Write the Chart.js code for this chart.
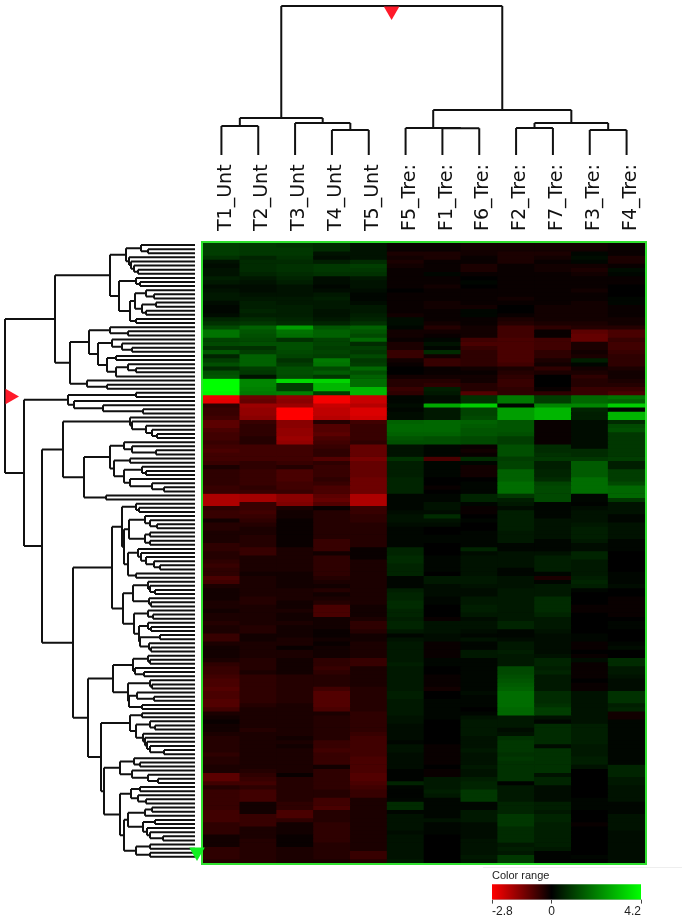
<!DOCTYPE html>
<html>
<head>
<meta charset="utf-8">
<title>Heat map</title>
<script src="https://cdn.jsdelivr.net/npm/chart.js@4"></script>
<style>
  html, body { margin: 0; padding: 0; background: #fff; }
  #page { position: relative; width: 682px; height: 920px; overflow: hidden; }
  canvas { position: absolute; filter: blur(0.4px); }
  #rule { position: absolute; left: 483px; top: 867px; width: 199px; height: 1px; background: #eee; }
</style>
</head>
<body>
<div id="page">
  <canvas id="heatChart" width="460" height="715" style="left:195px;top:155px"></canvas>
  <canvas id="topTree" width="442" height="155" style="left:203px;top:0"></canvas>
  <canvas id="leftTree" width="210" height="680" style="left:0;top:200px"></canvas>
  <div id="rule"></div>
  <canvas id="colorBar" width="212" height="52" style="left:470px;top:868px"></canvas>
</div>
<script>
// DATA
const columnLabels = ['T1_Unt','T2_Unt','T3_Unt','T4_Unt','T5_Unt','F5_Tre:','F1_Tre:','F6_Tre:','F2_Tre:','F7_Tre:','F3_Tre:','F4_Tre:'];
const colorMin = -2.8;
const colorMax = 4.2;
const colorTicks = [-2.8, 0, 4.2];

// one row per gene, columns in the order of columnLabels
const cellValues = [
[1.0,.9,.8,.7,.3,-.1,-.1,-.2,-.2,-.2,-.2,-.1],
[1.0,.9,.9,.7,.3,-.1,-.1,-.2,-.2,-.2,-.2,-.1],
[1.0,.9,.9,.3,.3,-.3,-.3,-.2,-.3,-.3,.1,-.1],
[.8,.6,.8,.2,.3,-.2,-.3,-.1,-.3,-.2,.2,-.3],
[.3,.7,.7,.5,.7,-.3,-.1,-.1,-.3,-.1,.1,-.3],
[.2,.7,.8,.9,1.0,-.2,-.1,-.3,-.1,-.2,-.2,-.1],
[.3,.7,.8,.9,.9,-.1,-.1,-.3,-.1,-.2,-.3,.2],
[.3,.6,.7,.8,.8,-.1,.1,-.1,-.1,-.1,-.2,.1],
[.5,.4,.6,.2,.4,-.1,-.1,0,-.1,-.1,-.1,-.1],
[.4,.3,.5,.2,.3,-.1,-.1,.1,-.1,-.1,-.1,-.1],
[.2,.2,.3,.1,.3,-.1,-.2,0,-.1,-.1,-.1,0],
[.3,.2,.3,.2,.2,0,-.1,-.1,-.1,-.1,-.2,0],
[.4,.3,.3,.4,.1,-.1,-.1,-.1,-.1,-.1,-.1,0],
[.4,.4,.4,.5,.1,-.1,-.1,-.1,-.2,-.1,-.1,.1],
[.2,.5,.4,.4,.2,-.1,-.2,-.1,-.1,-.1,-.2,.1],
[.1,.5,.5,.4,.4,-.1,-.2,-.2,0,-.2,-.2,-.1],
[.1,.6,.5,.3,.4,-.1,-.1,.1,0,-.2,-.2,-.1],
[.2,.5,.5,.3,.5,-.2,-.1,.1,-.1,-.2,-.2,-.1],
[.6,.7,.6,.4,.6,.2,-.1,-.1,-.3,-.2,-.2,-.2],
[.8,.9,.7,.6,.8,.2,-.2,-.1,-.4,-.3,-.3,-.2],
[1.2,1.6,2.6,1.4,1.6,.1,-.4,-.2,-.7,-.5,-.4,-.4],
[1.9,1.4,1.9,1.6,1.4,-.2,-.2,-.2,-.7,-.1,-1.0,-.8],
[1.9,1.3,1.8,1.6,1.2,-.2,-.1,-.2,-.7,-.1,-1.1,-.8],
[1.1,1.2,.8,1.1,1.7,-.1,.1,-.7,-.8,-.7,-1.1,-.6],
[1.2,1.3,1.3,1.1,.7,-.3,.3,-.8,-.8,-.7,-.3,-.7],
[.8,.8,1.3,1.0,1.0,-.3,.1,-.6,-.8,-.7,-.3,-.7],
[1.4,1.0,1.2,1.1,.9,-.6,.7,-.5,-.8,-.5,-.2,-.6],
[.6,1.6,1.1,1.0,1.2,-.6,-.2,-.5,-.8,-.5,-.3,-.5],
[1.0,1.6,.8,2.0,.9,-.2,-.6,-.5,-.8,-.3,.5,-.5],
[1.3,1.6,1.0,1.9,1.0,-.1,-.6,-.5,-.7,-.2,.1,-.5],
[.7,1.0,1.3,1.2,1.7,0,-.1,-.2,-.3,-.5,-.2,-.3],
[1.3,.9,1.3,1.5,1.3,0,-.1,-.1,-.4,-.3,-.3,-.2],
[1.4,.3,1.2,.9,1.6,-.2,-.2,-.2,-.5,0,-.5,-.2],
[4.2,2.2,3.6,3.5,1.8,-.4,-.4,-.2,-.6,0,-.4,-.3],
[4.2,2.2,1.0,3.0,1.8,-.4,-.5,-.4,-.6,0,-.4,-.4],
[4.2,2.1,1.0,3.0,3.0,-.6,.5,-.4,-.5,-.1,-.6,-.6],
[4.1,2.0,2.1,1.0,3.0,-.5,.4,-.9,-.5,-.5,-.6,-.8],
[-2.6,-1.2,-1.6,-2.7,-2.2,.1,.2,.8,2.0,1.0,1.7,1.9],
[-2.5,-1.1,-1.5,-2.7,-2.2,.1,.2,.8,2.0,1.0,1.7,1.6],
[-.5,-1.7,-1.7,-2.2,-2.0,.2,2.8,3.4,.1,2.2,2.2,3.4],
[-.6,-1.6,-2.8,-2.1,-2.4,.1,.4,1.1,2.6,3.0,.6,.1],
[-.6,-1.6,-2.8,-2.1,-2.4,.2,.4,1.1,2.6,3.0,.5,3.0],
[-.7,-1.5,-2.8,-2.0,-2.3,.2,.4,1.2,2.6,3.0,.5,3.0],
[-1.0,-.6,-1.5,-.4,-.7,1.6,1.7,1.6,1.4,-.1,.2,.7],
[-1.0,-.5,-1.5,-.9,-.6,1.7,1.7,1.5,1.4,-.1,.2,1.2],
[-.8,-.5,-1.6,-.9,-.6,1.7,1.7,1.4,1.4,-.1,.2,1.3],
[-.7,-.5,-1.6,-1.0,-.6,1.6,1.6,1.4,1.3,-.1,.2,.9],
[-.7,-.4,-1.7,-.8,-.6,1.4,1.3,1.2,1.0,-.1,.2,.9],
[-.6,-.4,-1.6,-.7,-.5,1.3,1.3,1.2,1.0,-.1,.2,.9],
[-.7,-.7,-.7,-.6,-1.1,.3,.1,-.1,1.3,.7,.2,.9],
[-.8,-.7,-.7,-.5,-1.1,.3,.1,-.2,1.3,.7,.7,.9],
[-.7,-.7,-.7,-.5,-1.1,.3,.1,-.1,1.3,.8,.7,.9],
[-.7,-.7,-.7,-.9,-1.3,.8,-.8,.7,1.0,.9,.9,1.0],
[-.6,-.5,-.6,-.5,-1.1,.5,.1,.1,1.1,.5,1.5,.5],
[-.3,-.5,-.4,-.6,-1.1,.5,.1,-.2,1.1,.5,1.5,.5],
[-.5,-.6,-.8,-.6,-1.1,.5,.1,-.2,1.6,.6,1.5,1.0],
[-.5,-.6,-.8,-.6,-1.1,.5,.1,-.2,1.6,.6,1.5,1.0],
[-.5,-.6,-.8,-.5,-1.2,.6,0,0,1.6,.7,1.8,1.0],
[-.5,-.6,-.7,-.6,-1.2,.6,0,.1,1.8,1.1,1.8,1.2],
[-.6,-.5,-.7,-.8,-1.2,.6,-.1,.1,1.8,1.2,1.8,1.7],
[-.6,-.6,-.6,-.8,-1.2,.6,0,.1,1.8,1.2,1.8,1.7],
[-1.9,-1.8,-1.5,-1.0,-1.9,.1,.1,.6,.9,1.2,.1,1.7],
[-1.9,-1.8,-1.5,-1.1,-1.9,.1,.1,.6,.5,1.2,.1,.9],
[-1.9,-.6,-1.4,-.9,-1.9,.1,.3,.1,.4,.1,.05,.3],
[-.5,-.6,-.3,-.1,-.6,.1,.3,-.1,.2,.1,.2,.3],
[-.6,-.7,-.2,-.4,-.6,.2,.2,-.1,.5,.1,.3,.3],
[-.6,-.6,-.2,-.4,-.5,.3,.7,0,.5,.1,.3,.1],
[-.2,-.5,-.1,-.4,-.5,.3,.3,.1,.5,.3,.3,.1],
[-.4,-.4,-.1,-.4,-.4,.2,.2,0,.5,.3,.4,.3],
[-.4,-.3,-.1,-.4,-.4,.1,0,0,.5,.3,.5,.3],
[-.3,-.3,-.1,-.4,-.4,.1,0,.1,.4,.3,.5,.3],
[-.3,-.4,-.1,-.4,-.4,.1,.1,.1,.4,.3,.5,.3],
[-.3,-.4,-.1,-.6,-.4,.1,.1,.1,.4,.1,.4,.1],
[-.5,-.4,-.1,-.6,-.4,.1,0,.1,.1,.1,.2,.1],
[-.5,-.6,-.3,-.6,-.1,.6,0,.6,.1,.1,.2,.1],
[-.4,-.6,-.3,-.2,-.1,.6,0,.2,.3,.3,.6,0],
[-.4,-.3,-.3,-.5,-.1,.7,.1,.3,.3,.5,.6,0],
[-.5,-.3,-.3,-.5,-.3,.7,.1,.3,.3,.5,.4,0],
[-.6,-.3,-.3,-.5,-.3,.6,.1,.3,.3,.5,.4,0],
[-.5,-.3,-.3,-.5,-.3,.6,.1,.3,.1,.5,.4,0],
[-.5,-.2,-.2,-.5,-.3,.6,0,.3,.1,.1,.4,.1],
[-.8,-.3,-.2,-.4,-.3,.1,.4,.4,.3,-.3,.5,.1],
[-.7,-.3,-.2,-.3,-.3,.1,.4,.4,.3,.1,.6,.1],
[-.3,-.3,-.2,-.2,-.3,.1,.2,.3,.3,.4,.5,.2],
[-.2,-.3,-.3,-.4,-.3,.5,.2,.2,.4,.4,.1,0],
[-.2,-.3,-.3,-.2,-.3,.6,.2,.2,.4,.4,0,0],
[-.2,-.4,-.3,-.3,-.3,.6,.1,.4,.4,.7,0,-.1],
[-.3,-.4,-.2,-.4,-.3,.7,.1,.4,.4,.7,0,-.1],
[-.3,-.3,-.2,-.8,-.2,.7,0,.5,.4,.7,-.1,-.1],
[-.2,-.3,-.3,-.8,-.2,.6,0,.5,.4,.7,-.1,-.1],
[-.3,-.3,-.2,-.8,-.2,.6,0,.4,.4,.6,0,-.1],
[-.3,-.3,-.2,-.2,-.3,.5,-.1,.2,.4,.4,0,0],
[-.4,-.3,-.3,-.2,-.5,.6,.3,.3,.6,.4,0,.1],
[-.3,-.4,-.2,-.2,-.5,.6,.3,.3,.6,.4,0,.1],
[-.3,-.4,-.2,-.1,-.4,.4,.3,.2,.1,.3,0,0],
[-.6,-.2,-.2,-.1,-.2,.1,.2,.1,.1,.2,.1,0],
[-.6,-.2,-.3,-.2,-.2,.3,.2,.3,.2,.2,.1,0],
[-.3,-.3,-.3,-.1,-.3,.4,-.1,.1,.4,.2,-.1,.1],
[-.2,-.3,-.1,-.2,-.3,.4,-.1,.1,.4,.2,-.1,.2],
[-.2,-.3,-.3,-.2,-.3,.4,-.1,.4,.5,.2,0,0],
[-.2,-.3,-.3,-.2,-.3,.4,-.1,.4,.4,.3,-.1,0],
[-.3,-.4,-.2,-.5,-.6,.4,.1,.1,.4,.6,.2,.7],
[-.5,-.4,-.2,-.5,-.6,.5,.1,.1,.4,.6,-.1,.7],
[-.6,-.4,-.2,-.6,-.3,.4,0,.1,1.2,.5,-.1,.4],
[-.6,-.3,-.2,-.5,-.3,.4,0,.1,1.2,.6,-.1,.4],
[-.7,-.5,-.4,-.4,-.3,.4,-.1,.1,1.3,.4,-.1,.3],
[-.8,-.5,-.4,-.4,-.3,.4,-.1,.1,1.4,.4,0,.2],
[-.8,-.5,-.4,-.4,-.3,.4,-.1,.1,1.5,.4,-.1,.2],
[-.9,-.5,-.4,-.7,-.4,.4,-.2,.1,1.6,.4,-.1,.2],
[-.8,-.5,-.4,-.9,-.4,.5,0,.2,1.8,.7,.3,.8],
[-.8,-.5,-.4,-.9,-.4,.5,0,.1,1.8,.7,.3,.8],
[-.9,-.5,-.4,-.9,-.4,.4,.1,.1,1.8,.7,.3,.8],
[-.9,-.4,-.3,-.9,-.4,.4,.1,.1,1.8,.8,.3,.5],
[-.7,-.3,-.3,-.8,-.4,.4,.1,0,1.7,1.0,.3,.6],
[-.3,-.3,-.3,-.3,-.5,.4,.1,.1,1.7,1.0,.3,-.2],
[-.2,-.3,-.3,-.4,-.5,.3,.1,.3,.4,.3,.3,-.2],
[-.1,-.3,-.3,-.4,-.5,.3,0,.4,.4,.1,.3,.1],
[-.2,-.3,-.3,-.4,-.5,.2,0,.4,.4,.7,.5,.1],
[-.2,-.4,-.3,-.4,-.5,.2,0,.4,.2,.7,.5,.1],
[-.3,-.3,-.3,-.4,-.6,.2,0,.4,.3,.7,.5,.1],
[-.4,-.3,-.2,-.4,-.7,.2,0,.3,.8,.7,.5,.1],
[-.4,-.3,-.3,-.6,-.7,.1,0,.3,.9,.7,.5,.1],
[-.4,-.3,-.2,-.6,-.7,.3,-.1,.3,.9,.2,.4,.1],
[-.4,-.3,-.3,-.7,-.7,.3,-.1,.4,.9,.8,.4,.1],
[-.5,-.3,-.3,-.6,-.7,.2,-.1,.3,.8,.8,.4,.1],
[-.4,-.3,-.3,-.6,-.8,.2,-.1,.3,.9,.8,.5,.1],
[-.4,-.3,-.3,-.6,-.8,.2,-.1,.3,.8,.8,.5,.1],
[-.3,-.3,-.3,-.2,-.8,.2,0,.4,.8,.8,.3,.6],
[-.3,-.4,-.3,-.5,-.8,.05,-.1,.3,.8,.8,0,.6],
[-1.0,-.5,-.1,-.5,-.9,.05,-.1,.3,.8,.3,0,.6],
[-1.0,-.6,-.4,-.5,-.9,.05,.4,.5,.8,.6,0,.4],
[-.7,-.7,-.4,-.5,-.8,.6,.4,.6,.05,.6,0,.4],
[-.4,-.5,-.4,-.5,-.7,.1,.4,.6,.4,.2,0,.3],
[-.6,-.7,-.4,-.4,-.6,.05,.5,.9,.4,.2,0,.3],
[-.6,-.7,-.4,-.4,-.6,.05,.4,.9,.4,.2,0,.3],
[-.6,-.7,-.4,-.7,-.3,.1,.1,.9,.4,.2,.1,.3],
[-.6,-.2,-.5,-.7,-.3,.7,.1,.1,.6,.5,.1,.1],
[-.6,-.2,-.5,-.8,-.3,.7,.1,.1,.6,.5,.1,.1],
[-.7,-.2,-.8,-.4,-.3,.1,.1,.4,.6,.4,0,.1],
[-.7,-.6,-.8,-.4,-.3,.3,.1,.4,.9,.6,0,.3],
[-.7,-.6,-.5,-.4,-.3,.3,.3,.4,.9,.6,0,.3],
[-.5,-.6,-.2,-.5,-.3,.3,.1,.2,.9,.5,-.1,.3],
[-.5,-.3,-.2,-.5,-.3,.3,.1,.2,.7,.5,0,.3],
[-.5,-.3,-.2,-.5,-.3,.2,.1,.2,.7,.5,0,.2],
[-.2,-.3,-.1,-.5,-.3,.3,0,.2,.7,.5,0,.2],
[-.2,-.4,-.1,-.5,-.3,.3,0,.3,.7,.5,0,.2],
[-.2,-.4,-.1,-.4,-.3,.3,0,.3,.4,.5,0,.2],
[-.5,-.4,-.3,-.4,-.3,.3,0,.3,.5,.4,0,.2],
[-.5,-.4,-.3,-.4,-.6,.3,0,.3,.4,.05,0,.2],
[-.5,-.4,-.3,-.4,-.6,.3,0,.4,.9,.05,.1,.2],
[-.4,-.4,-.3,-.3,-.4,.4,0,.3,.9,.05,0,.2]
];

// dendrograms: [distance, child, child], 0 is a leaf
const rowTree = [5,
  [55,
    [110,
      [126, [141,0,[148,0,0]], [129,0,[131,0,[134,0,[138,0,0]]]]],
      [119, [136,0,[140,0,0]],
        [130, [135,[146,0,[154,0,0]],[142,[156,0,0],[146,0,0]]], [136,0,0]]]],
    [70,
      [89,
        [110,0,[128,0,0]],
        [98,
          [112,0,[122,0,[132,0,0]]],
          [107,[116,0,0],[116,[128,0,[136,0,0]],0]]]],
      [87,0,[107,0,0]]]],
  [24,
    [68,[136,0,0],[74,0,[103,0,[143,0,0]]]],
    [42,
      [63,
        [130,0,[132,0,[146,0,[152,0,[157,0,0]]]]],
        [84,
          [110,
            [124,0,[132,0,[156,0,0]]],
            [114,[130,0,0],[124,[142,0,[146,0,0]],[130,0,[152,0,[164,0,0]]]]]],
          [106,0,0]]],
      [73,
        [112,
          [122,
            [136,0,[139,0,0]],
            [124,
              [129,[145,0,[150,0,[157,0,0]]],[145,[150,0,0],[150,0,0]]],
              [128,[138,0,[141,0,[146,0,[154,0,[160,0,0]]]]],[136,0,0]]]],
          [123,
            [133,[148,0,[150,0,[155,0,0]]],[149,0,[151,0,0]]],
            [134,[148,0,[153,0,0]],[139,[148,0,[151,0,0]],[140,[160,0,0],[149,0,[151,0,0]]]]]]],
        [88,
          [113,
            [133,[148,0,[150,0,0]],[135,0,[144,0,0]]],
            [128,[150,0,[152,0,0]],[129,[137,0,[154,0,0]],[142,0,0]]]],
          [101,
            [130,[142,0,0],[136,[150,0,[155,0,0]],[143,0,[145,0,[147,0,[150,0,[164,0,0]]]]]]],
            [104,
              [120,[134,0,[140,0,0]],[124,[132,0,[148,0,[158,0,0]]]]],
              [120,
                [131,[140,0,0],[138,0,[146,0,0]]],
                [124,
                  [128,[145,[152,0,0],0],[143,[155,0,0],[147,0,[150,0,[163,0,0]]]]],
                  [136,[150,0,0],[150,0,0]]]]]]]]]]];
const rowTreeLeafEnd = 195;

const columnTree = [149,
  [37,[29,0,0],[32,0,[25,0,0]]],
  [45,[27,0,[26.7,0,0]],[32,[27,0,0],[25,0,0]]]];
const columnTreeLeafEnd = 0;

const topMarker = [{x: 4.62, y: 144}];
const leftMarker = [{x: 10, y: 36.9}];
const bottomMarker = [{x: 197, y: 147.8}];

/* value -> red/black/green */
function heatColor(v) {
  if (v < 0) return `rgb(${Math.round(Math.min(1, v / colorMin) * 255)},0,0)`;
  return `rgb(0,${Math.round(Math.min(1, v / colorMax) * 255)},0)`;
}

/* turns a nested tree into line points, NaN breaks the line */
function treeLines(tree, leafEnd, flip) {
  const pts = [];
  let next = 0;
  const add = (h1, p1, h2, p2) => {
    pts.push(flip ? {x: p1, y: h1} : {x: h1, y: p1});
    pts.push(flip ? {x: p2, y: h2} : {x: h2, y: p2});
    pts.push({x: NaN, y: NaN});
  };
  const walk = (n) => {
    if (n === 0) return {p: next++, h: leafEnd};
    const h = n[0];
    const kids = n.slice(1).map(walk);
    const first = kids[0].p;
    const last = kids[kids.length - 1].p;
    add(h, first, h, last);
    kids.forEach((k) => add(h, k.p, k.h, k.p));
    return {p: (first + last) / 2, h: h};
  };
  walk(tree);
  return pts;
}

function marker(data, color, radius, rotation) {
  return {
    type: 'scatter', data: data, showLine: false, clip: false,
    pointStyle: 'triangle', pointRadius: radius, pointRotation: rotation,
    backgroundColor: color, borderColor: color, borderWidth: 0
  };
}

const hideAll = { legend: {display: false}, tooltip: {enabled: false}, title: {display: false} };

// heat map, each row is one stacked dataset
const heatPlugin = {
  id: 'heatFrame',
  beforeDatasetsDraw(chart) {
    const a = chart.chartArea;
    chart.ctx.fillStyle = '#000';
    chart.ctx.fillRect(a.left, a.top, a.width, a.height);
  },
  afterDatasetsDraw(chart) {
    const a = chart.chartArea;
    chart.ctx.strokeStyle = '#2fe02f';
    chart.ctx.lineWidth = 2;
    chart.ctx.strokeRect(a.left - 1, a.top - 1, a.width + 2, a.height + 2);
  }
};

new Chart(document.getElementById('heatChart'), {
  type: 'bar',
  data: {
    labels: columnLabels,
    datasets: cellValues.map((row) => ({
      data: row.map(() => 1),
      backgroundColor: row.map(heatColor),
      borderWidth: 0,
      barPercentage: 1,
      categoryPercentage: 1
    }))
  },
  options: {
    responsive: false,
    animation: false,
    layout: {autoPadding: false, padding: {left: 8, right: 10, bottom: 7, top: 0}},
    plugins: hideAll,
    scales: {
      x: {
        stacked: true,
        position: 'top',
        afterFit: (s) => { s.height = 88; s.paddingLeft = 0; s.paddingRight = 0; },
        grid: {display: false},
        border: {display: false},
        ticks: {
          autoSkip: false, minRotation: 90, maxRotation: 90, padding: 4, labelOffset: 27,
          color: '#111', font: {family: 'DejaVu Sans', size: 19}
        }
      },
      y: {stacked: true, display: false, reverse: true, min: 0, max: cellValues.length}
    }
  },
  plugins: [heatPlugin]
});

// column dendrogram
new Chart(document.getElementById('topTree'), {
  type: 'scatter',
  data: {
    datasets: [
      marker(topMarker, '#ff1a2a', 9, 180),
      {
        data: treeLines(columnTree, columnTreeLeafEnd, true),
        showLine: true, spanGaps: false, clip: false, pointRadius: 0,
        borderColor: '#111', borderWidth: 2
      }
    ]
  },
  options: {
    responsive: false,
    animation: false,
    plugins: hideAll,
    layout: {autoPadding: false, padding: {top: 1}},
    scales: {
      x: {type: 'linear', display: false, min: -0.5, max: columnLabels.length - 0.5},
      y: {type: 'linear', display: false, min: 0, max: 154}
    }
  }
});

// row dendrogram
new Chart(document.getElementById('leftTree'), {
  type: 'scatter',
  data: {
    datasets: [
      marker(leftMarker, '#ff1a2a', 9, 90),
      marker(bottomMarker, '#10f020', 9, 180),
      {
        data: treeLines(rowTree, rowTreeLeafEnd, false),
        showLine: true, spanGaps: false, clip: false, pointRadius: 0,
        borderColor: '#111', borderWidth: 2
      }
    ]
  },
  options: {
    responsive: false,
    animation: false,
    plugins: hideAll,
    layout: {autoPadding: false, padding: {top: 43, bottom: 17, right: 5}},
    scales: {
      x: {type: 'linear', display: false, min: 0, max: 205},
      y: {type: 'linear', display: false, reverse: true, min: -0.5, max: cellValues.length - 0.5}
    }
  }
});

// colour key
new Chart(document.getElementById('colorBar'), {
  type: 'bar',
  data: {
    labels: ['range'],
    datasets: [{
      data: [[colorMin, colorMax]],
      barPercentage: 1,
      categoryPercentage: 1,
      borderWidth: 0,
      backgroundColor: (c) => {
        const a = c.chart.chartArea;
        if (!a) return '#000';
        const g = c.chart.ctx.createLinearGradient(a.left, 0, a.right, 0);
        g.addColorStop(0, heatColor(colorMin));
        g.addColorStop((0 - colorMin) / (colorMax - colorMin), '#000');
        g.addColorStop(1, heatColor(colorMax));
        return g;
      }
    }]
  },
  options: {
    indexAxis: 'y',
    responsive: false,
    animation: false,
    layout: {padding: {left: 22, right: 41}},
    plugins: {
      legend: {display: false},
      tooltip: {enabled: false},
      title: {
        display: true, text: 'Color range', align: 'start', color: '#222',
        padding: {top: 1, bottom: 2},
        font: {family: 'Liberation Sans', size: 11, weight: 'normal'}
      }
    },
    scales: {
      y: {display: false},
      x: {
        type: 'linear', min: colorMin, max: colorMax,
        afterBuildTicks: (axis) => { axis.ticks = colorTicks.map((v) => ({value: v})); },
        grid: {drawOnChartArea: false, tickLength: 4, color: '#444'},
        border: {color: '#bbb'},
        ticks: {
          align: 'inner', padding: 1, color: '#222', maxRotation: 0, autoSkip: false,
          font: {family: 'Liberation Sans', size: 12},
          callback: (v) => String(v)
        }
      }
    }
  }
});
</script>
</body>
</html>
